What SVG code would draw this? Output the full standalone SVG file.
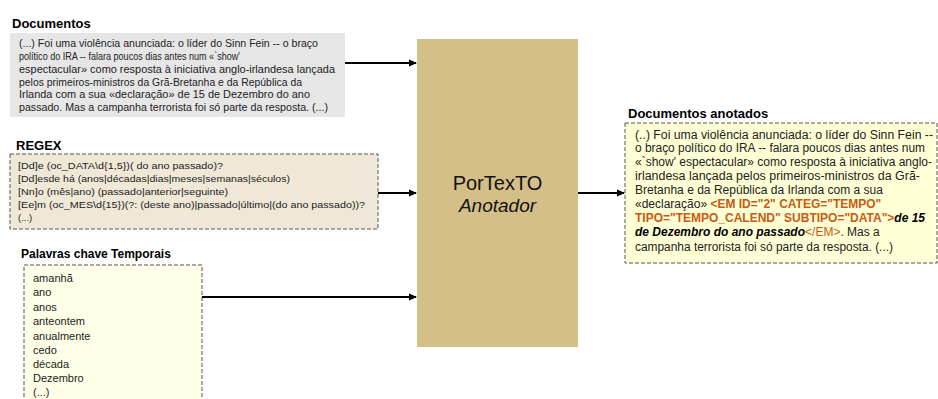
<svg xmlns="http://www.w3.org/2000/svg" width="938" height="399" viewBox="0 0 938 399">
<style>
.title{font-family:"Liberation Sans",Arial,sans-serif;font-weight:bold;font-size:13px;fill:#000}
.doc{font-family:"Liberation Sans",Arial,sans-serif;font-size:10.5px;fill:#222}
.rx{font-family:"Liberation Sans",Arial,sans-serif;font-size:9.5px;fill:#222}
.kw{font-family:"Liberation Sans",Arial,sans-serif;font-size:11px;fill:#222}
.an{font-family:"Liberation Sans",Arial,sans-serif;font-size:12px;fill:#222}
.tag{fill:#c85a14;font-weight:bold}
.tagr{fill:#c85a14}
.em{font-weight:bold;font-style:italic;fill:#000}
.dash{stroke:#555;stroke-width:1;stroke-dasharray:4,2}
.conn{stroke:#000;stroke-width:2;fill:none}
</style>
<defs>
<marker id="ah" markerWidth="8" markerHeight="8" refX="7" refY="4" orient="auto" markerUnits="userSpaceOnUse">
<path d="M0,0.5 L8,4 L0,7.5 Z" fill="#000"/>
</marker>
</defs>
<rect width="938" height="399" fill="#fff"/>

<g id="documentos">
<text class="title" x="12" y="28">Documentos</text>
<rect x="10" y="33" width="335" height="84" fill="#e6e6e6"/>
<text class="doc" x="19" y="47" textLength="299" lengthAdjust="spacingAndGlyphs">(...) Foi uma violência anunciada: o líder do Sinn Fein -- o braço</text>
<text class="doc" x="19" y="60" textLength="221" lengthAdjust="spacingAndGlyphs">político do IRA -- falara poucos dias antes num «`show'</text>
<text class="doc" x="19" y="73" textLength="316" lengthAdjust="spacingAndGlyphs">espectacular» como resposta à iniciativa anglo-irlandesa lançada</text>
<text class="doc" x="19" y="86" textLength="283" lengthAdjust="spacingAndGlyphs">pelos primeiros-ministros da Grã-Bretanha e da República da</text>
<text class="doc" x="19" y="98" textLength="291" lengthAdjust="spacingAndGlyphs">Irlanda com a sua «declaração» de 15 de Dezembro do ano</text>
<text class="doc" x="19" y="111" textLength="309" lengthAdjust="spacingAndGlyphs">passado. Mas a campanha terrorista foi só parte da resposta. (...)</text>
</g>

<g id="regex">
<text class="title" x="16" y="150">REGEX</text>
<rect class="dash" x="10" y="154" width="368" height="75" fill="#efe8d6"/>
<text class="rx" x="18" y="169" textLength="205" lengthAdjust="spacingAndGlyphs">[Dd]e (oc_DATA\d{1,5})( do ano passado)?</text>
<text class="rx" x="18" y="182" textLength="272" lengthAdjust="spacingAndGlyphs">[Dd]esde há (anos|décadas|dias|meses|semanas|séculos)</text>
<text class="rx" x="18" y="195" textLength="210" lengthAdjust="spacingAndGlyphs">[Nn]o (mês|ano) (passado|anterior|seguinte)</text>
<text class="rx" x="18" y="208" textLength="347" lengthAdjust="spacingAndGlyphs">[Ee]m (oc_MES\d{15})(?: (deste ano)|passado|último|(do ano passado))?</text>
<text class="rx" x="18" y="221">(...)</text>
</g>

<g id="palavras">
<text class="title" x="21" y="258" style="font-size:12px">Palavras chave Temporais</text>
<rect class="dash" x="24" y="265" width="178" height="140" fill="#ffffe8"/>
<text class="kw" x="33" y="282">amanhã</text>
<text class="kw" x="33" y="296">ano</text>
<text class="kw" x="33" y="311">anos</text>
<text class="kw" x="33" y="325">anteontem</text>
<text class="kw" x="33" y="340">anualmente</text>
<text class="kw" x="33" y="354">cedo</text>
<text class="kw" x="33" y="368">década</text>
<text class="kw" x="33" y="382">Dezembro</text>
<text class="kw" x="33" y="396">(...)</text>
</g>

<g id="portexto">
<rect x="417" y="39" width="161" height="308" fill="#d5bf89"/>
<text x="497.5" y="190" text-anchor="middle" style="font-family:'Liberation Sans',Arial,sans-serif;font-size:20px;fill:#111">PorTexTO</text>
<text x="497.5" y="212" text-anchor="middle" style="font-family:'Liberation Sans',Arial,sans-serif;font-size:19px;font-style:italic;fill:#111">Anotador</text>
</g>

<g id="anotados">
<text class="title" x="628" y="118">Documentos anotados</text>
<rect class="dash" x="625" y="123" width="312" height="140" fill="#ffffd6"/>
<text class="an" x="635" y="139" textLength="298" lengthAdjust="spacingAndGlyphs">(..) Foi uma violência anunciada: o líder do Sinn Fein --</text>
<text class="an" x="635" y="152" textLength="290" lengthAdjust="spacingAndGlyphs">o braço político do IRA -- falara poucos dias antes num</text>
<text class="an" x="635" y="166" textLength="297" lengthAdjust="spacingAndGlyphs">«`show' espectacular» como resposta à iniciativa anglo-</text>
<text class="an" x="635" y="180" textLength="285" lengthAdjust="spacingAndGlyphs">irlandesa lançada pelos primeiros-ministros da Grã-</text>
<text class="an" x="635" y="194" textLength="248" lengthAdjust="spacingAndGlyphs">Bretanha e da República da Irlanda com a sua</text>
<text class="an" x="635" y="208">«declaração» <tspan class="tag">&lt;EM ID="2" CATEG="TEMPO"</tspan></text>
<text class="an" x="635" y="222"><tspan class="tag">TIPO="TEMPO_CALEND" SUBTIPO="DATA"&gt;</tspan><tspan class="em">de 15</tspan></text>
<text class="an" x="635" y="236"><tspan class="em">de Dezembro do ano passado</tspan><tspan class="tagr">&lt;/EM&gt;</tspan>. Mas a</text>
<text class="an" x="635" y="251" textLength="258" lengthAdjust="spacingAndGlyphs">campanha terrorista foi só parte da resposta. (...)</text>
</g>

<g id="connectors">
<line class="conn" x1="345" y1="63" x2="416" y2="63" marker-end="url(#ah)"/>
<line class="conn" x1="378" y1="193" x2="416" y2="193" marker-end="url(#ah)"/>
<line class="conn" x1="202" y1="297" x2="416" y2="297" marker-end="url(#ah)"/>
<line class="conn" x1="578" y1="193" x2="624" y2="193" marker-end="url(#ah)"/>
</g>
</svg>
